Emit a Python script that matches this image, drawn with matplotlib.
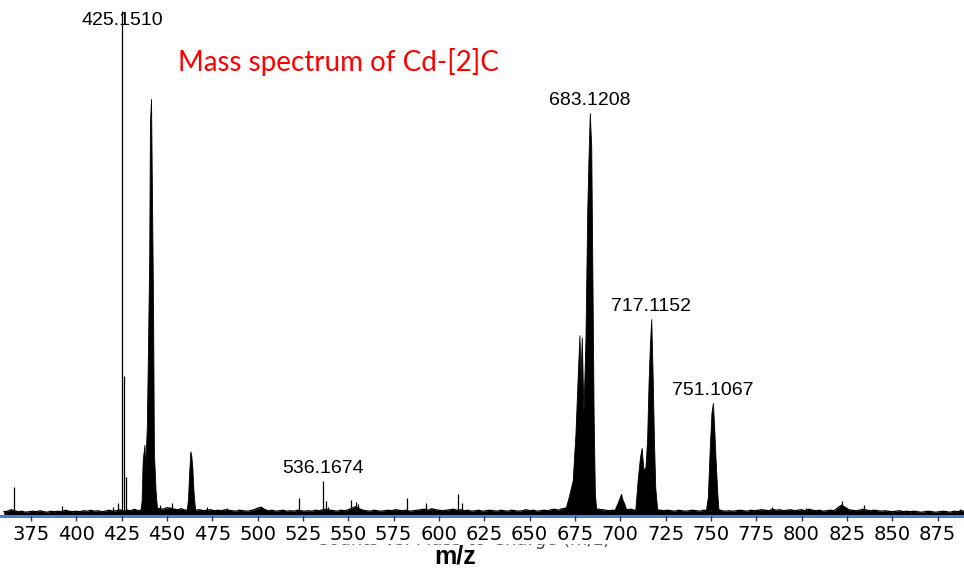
import numpy as np
import matplotlib
matplotlib.use("Agg")
import matplotlib.pyplot as plt
from matplotlib.patches import Rectangle

# baseline noise, one value every 2 m/z from 360 to 890 (relative intensity, %)
noise_mz = np.arange(360, 891, 2)
noise_int = [
    0.5, 0.6, 0.9, 0.7, 0.5, 0.6, 0.4, 0.5, 0.6, 0.5, 0.7, 0.5, 0.4, 0.6, 0.5, 0.6, 0.5, 0.8, 0.6, 0.5,
    0.6, 0.5, 0.7, 0.6, 0.8, 0.6, 0.7, 0.5, 0.6, 0.8, 0.6, 0.7, 0.9, 0.6, 0.8, 0.7, 1.0, 0.7, 0.8, 0.9,
    0.9, 1.0, 1.2, 1.1, 1.0, 1.3, 1.2, 1.0, 0.9, 1.1, 0.8, 0.9, 1.0, 0.8, 0.9, 0.7, 0.8, 0.9, 0.7, 0.8,
    0.7, 0.9, 0.8, 0.7, 0.6, 0.8, 0.7, 0.6, 0.7, 0.9, 1.2, 1.4, 0.9, 0.7, 0.8, 0.6, 0.7, 0.8, 0.6, 0.7,
    0.6, 0.8, 0.7, 0.6, 0.7, 0.6, 0.8, 0.7, 0.9, 1.0, 0.8, 0.7, 0.6, 0.8, 0.7, 0.9, 1.2, 1.5, 1.1, 0.8,
    0.7, 0.6, 0.8, 0.7, 0.6, 0.7, 0.8, 0.7, 0.9, 0.8, 0.7, 0.8, 0.6, 0.7, 0.8, 0.9, 1.0, 0.8, 1.1, 0.9,
    0.8, 0.7, 0.8, 0.9, 1.0, 0.8, 0.9, 0.7, 0.8, 0.6, 0.7, 0.8, 0.6, 0.7, 0.8, 0.7, 0.6, 0.8, 0.7, 0.6,
    0.8, 0.7, 0.6, 0.7, 0.9, 0.7, 0.8, 0.6, 0.7, 0.8, 0.7, 0.9, 1.0, 0.8, 1.1, 1.2, 1.5, 2.0, 1.5, 1.2,
    1.0, 1.0, 1.0, 1.0, 1.0, 0.9, 0.8, 0.7, 0.8, 0.7, 1.0, 1.1, 0.9, 1.0, 0.8, 0.7, 0.8, 0.7, 0.9, 0.8,
    0.9, 0.8, 0.7, 0.8, 0.7, 0.6, 0.8, 0.7, 0.6, 0.7, 0.8, 0.7, 0.6, 0.8, 0.7, 0.6, 0.8, 0.9, 0.7, 0.6,
    0.7, 0.6, 0.7, 0.8, 0.7, 0.6, 0.8, 0.7, 0.8, 0.9, 0.8, 0.7, 1.0, 0.8, 0.9, 0.7, 0.8, 0.9, 0.7, 0.8,
    0.9, 0.7, 1.0, 0.8, 0.7, 0.8, 0.6, 0.7, 0.8, 0.7, 1.3, 1.8, 1.4, 0.9, 0.8, 0.7, 0.8, 1.0, 0.8, 0.7,
    0.8, 0.7, 0.6, 0.7, 0.6, 0.5, 0.6, 0.7, 0.5, 0.6, 0.5, 0.6, 0.5, 0.4, 0.5, 0.6, 0.5, 0.4, 0.5, 0.6,
    0.5, 0.4, 0.6, 0.5, 0.7, 0.6,
]
noise_floor = 0.35  # flat part of the baseline under the noise

# isotope envelopes (outline points)
c440_mz = [435.2, 436.0, 436.6, 437.6, 438.0, 438.9, 439.5, 440.2, 440.6, 441.2, 441.7, 442.3, 442.8, 443.7, 444.6]
c440_int = [0.8, 3.0, 11.1, 14.1, 9.1, 18.0, 32.9, 51.3, 77.8, 82.6, 64.2, 42.2, 12.5, 5.1, 1.0]
c463_mz = [460.8, 461.6, 462.3, 462.9, 463.4, 464.0, 464.6, 465.3, 466.0]
c463_int = [0.8, 3.5, 9.0, 12.8, 12.0, 9.5, 5.0, 2.0, 0.8]
c683_mz = [668.7, 670.2, 671.6, 673.8, 675.3, 676.6, 677.5, 678.1, 678.8, 679.7,
           680.8, 681.8, 682.5, 683.2, 684.0, 684.7, 685.3, 686.0, 686.7, 687.7]
c683_int = [0.8, 2.0, 3.8, 7.1, 16.4, 28.3, 35.8, 27.5, 35.4, 20.4,
            34.9, 60.6, 71.1, 79.8, 73.1, 45.3, 20.4, 4.6, 1.4, 0.8]
c700_mz = [696.5, 697.8, 699.0, 700.4, 701.3, 702.3, 703.5]
c700_int = [0.9, 2.0, 3.0, 4.4, 3.2, 2.4, 1.0]
c717_mz = [707.6, 708.3, 709.6, 710.9, 711.8, 712.8, 713.9, 714.8, 715.6, 716.4, 717.1, 717.8, 718.6, 719.3, 720.4, 721.1]
c717_int = [0.8, 1.2, 7.1, 11.7, 13.5, 9.1, 9.7, 15.0, 26.3, 34.3, 39.0, 28.9, 15.0, 5.7, 1.2, 0.8]
c751_mz = [746.5, 747.2, 748.3, 749.4, 750.3, 751.1, 751.8, 752.6, 753.5, 754.2, 754.9]
c751_int = [0.8, 1.0, 3.8, 13.7, 20.4, 22.4, 17.6, 11.1, 4.6, 1.2, 0.8]

# single sharp lines
stick_mz = [365.6, 391.9, 420.4, 423.2, 425.151, 426.15, 427.15, 446.2, 452.9, 471.9, 483.0,
            523.0, 536.1674, 537.7, 539.0, 551.3, 554.3, 555.6, 582.2, 592.9, 610.7, 612.6,
            783.5, 802.5, 822.2, 834.6, 887.4]
stick_int = [5.7, 2.0, 1.8, 2.6, 100.0, 27.7, 7.7, 2.2, 2.6, 1.8, 1.6,
             3.5, 6.9, 3.0, 1.8, 3.2, 2.8, 2.4, 3.5, 2.6, 4.4, 2.6,
             1.8, 1.6, 3.0, 2.2, 1.4]

# annotated peaks
label_mz = [425.1510, 536.1674, 683.1208, 717.1152, 751.1067]
label_int = [100.0, 6.9, 79.8, 39.0, 22.4]

xticks = list(range(375, 876, 25))

fig = plt.figure(figsize=(9.64, 5.74), dpi=100)
ax = fig.add_axes([0, 0.101, 1, 0.899])

noise_top = np.array(noise_int) + noise_floor
ax.fill_between(noise_mz, 0, noise_top, color="black", lw=0)
ax.plot(noise_mz, noise_top, color="black", lw=0.9)

clusters = [(c440_mz, c440_int), (c463_mz, c463_int), (c683_mz, c683_int),
            (c700_mz, c700_int), (c717_mz, c717_int), (c751_mz, c751_int)]
for mz, inten in clusters:
    ax.fill_between(mz, 0, inten, color="black", lw=0.6, edgecolor="black")

ax.vlines(stick_mz, 0, stick_int, color="black", lw=0.9)

for mz, h in zip(label_mz, label_int):
    if h >= 99:
        ax.annotate(f"{mz:.4f}", (mz, h), xytext=(0, -1), textcoords="offset points",
                    ha="center", va="top", fontsize=14, family="Liberation Sans")
    else:
        ax.annotate(f"{mz:.4f}", (mz, h), xytext=(0, 3), textcoords="offset points",
                    ha="center", va="bottom", fontsize=14, family="Liberation Sans")

ax.set_xlim(357.9, 889.6)
ax.set_ylim(0, 102.2)
ax.set_xticks(xticks)
ax.set_yticks([])
for s in ["left", "right", "top"]:
    ax.spines[s].set_visible(False)
ax.spines["bottom"].set_color("#4a7fd6")
ax.spines["bottom"].set_linewidth(2.2)
ax.tick_params(axis="x", direction="out", length=3.5, width=1, color="#333333", pad=3,
               labelsize=14)
ax.xaxis.set_zorder(10)

# axis title that sits mostly hidden behind the tick labels
ax.text(0.48, -0.046, "Counts vs. Mass-to-Charge (m/z)", transform=ax.transAxes,
        ha="center", va="center", fontsize=13, color="#444444", zorder=3, clip_on=False)
ax.add_patch(Rectangle((0.3, -0.052), 0.4, 0.044, transform=ax.transAxes, color="white",
                       zorder=4, clip_on=False))

fig.text(455 / 964, 1 - 557 / 574, "m/z", fontsize=18, fontweight="bold",
         ha="center", va="center", family="Liberation Sans")

fig.text(178 / 964, 1 - 62 / 574, "Mass spectrum of Cd-[2]C", color="red", fontsize=20,
         family="Lato", ha="left", va="center")

fig.savefig("out.png", dpi=100)
